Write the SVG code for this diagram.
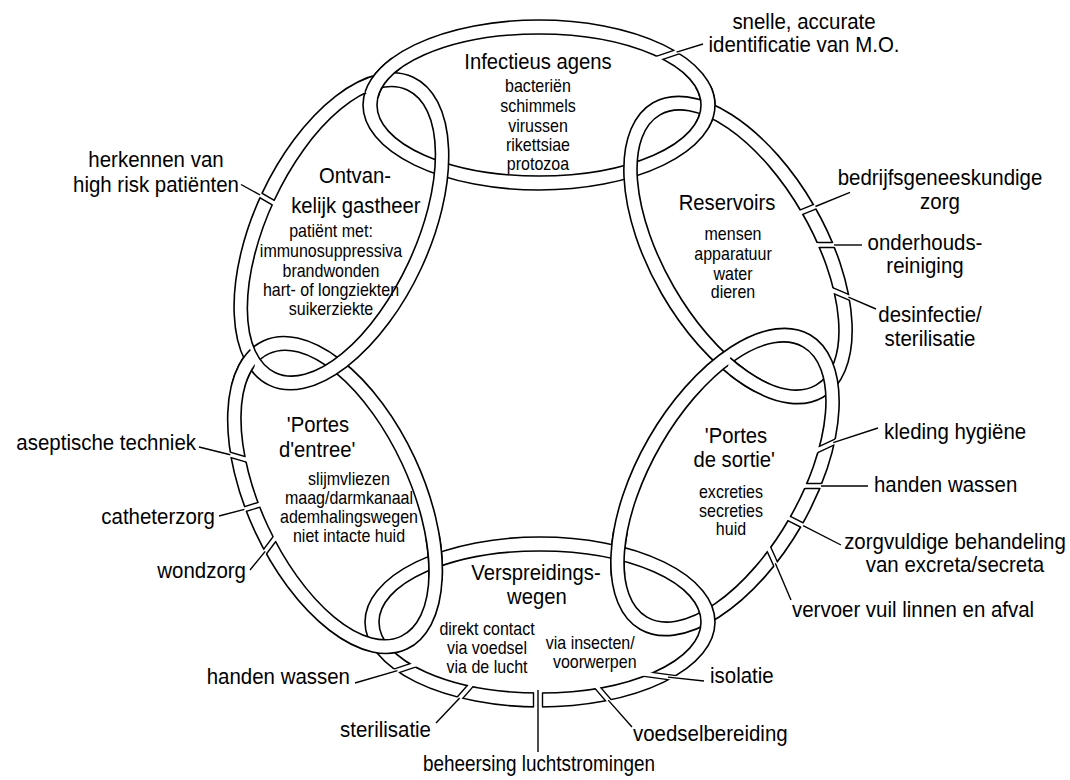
<svg xmlns="http://www.w3.org/2000/svg" xmlns:xlink="http://www.w3.org/1999/xlink" width="1070" height="780" viewBox="0 0 1070 780">
<style>
.band{fill:#fff;stroke:#000;stroke-width:1.6;fill-rule:evenodd}
.edge{stroke:#000;stroke-width:1.4;fill:none}
.lead{stroke:#000;stroke-width:1.4;fill:none}
text{font-family:"Liberation Sans",Arial,sans-serif;fill:#000}
.t{font-size:22.5px;text-anchor:middle}
.l{font-size:17.8px;text-anchor:middle}
.x{font-size:22px}
.m{text-anchor:middle}
.e{text-anchor:end}
</style>
<defs>
<path id="pT" d="M176,0A176,85 0 1 0 -176,0A176,85 0 1 0 176,0ZM162,0A162,71 0 1 0 -162,0A162,71 0 1 0 162,0Z"/>
<path id="pB" d="M175,0A175,85 0 1 0 -175,0A175,85 0 1 0 175,0ZM161,0A161,71 0 1 0 -161,0A161,71 0 1 0 161,0Z"/>
<path id="pS" d="M170,0A170,88 0 1 0 -170,0A170,88 0 1 0 170,0ZM156,0A156,74 0 1 0 -156,0A156,74 0 1 0 156,0Z"/>
<clipPath id="cT"><use xlink:href="#pT" transform="translate(539,105)" clip-rule="evenodd"/></clipPath>
<clipPath id="cR"><use xlink:href="#pS" transform="translate(738,250) rotate(60)" clip-rule="evenodd"/></clipPath>
<clipPath id="cS"><use xlink:href="#pS" transform="translate(725,482) rotate(-60)" clip-rule="evenodd"/></clipPath>
<clipPath id="cB"><use xlink:href="#pB" transform="translate(540,622)" clip-rule="evenodd"/></clipPath>
<clipPath id="cE"><use xlink:href="#pS" transform="translate(335,495) rotate(65)" clip-rule="evenodd"/></clipPath>
<clipPath id="cO"><use xlink:href="#pS" transform="translate(341.4,231.3) rotate(-65)" clip-rule="evenodd"/></clipPath>
<mask id="mT" maskUnits="userSpaceOnUse" x="0" y="0" width="1070" height="780"><rect width="1070" height="780" fill="#fff"/><path d="M644.25,63L691.75,47" stroke="#000" stroke-width="4"/></mask>
<mask id="mO" maskUnits="userSpaceOnUse" x="0" y="0" width="1070" height="780"><rect width="1070" height="780" fill="#fff"/><path d="M288.65,211.5L245.35,186.5" stroke="#000" stroke-width="4"/></mask>
<mask id="mR" maskUnits="userSpaceOnUse" x="0" y="0" width="1070" height="780"><rect width="1070" height="780" fill="#fff"/><path d="M784.85,218.95L831.15,200.05M801,245L851,245M818,284.25L864,303.75" stroke="#000" stroke-width="4"/></mask>
<mask id="mS" maskUnits="userSpaceOnUse" x="0" y="0" width="1070" height="780"><rect width="1070" height="780" fill="#fff"/><path d="M803.35,456.6L848.65,435.4M788,486L838,486M773.7,510.7L818.3,533.3M761.7,533.2L782.3,578.8" stroke="#000" stroke-width="4"/></mask>
<mask id="mB" maskUnits="userSpaceOnUse" x="0" y="0" width="1070" height="780"><rect width="1070" height="780" fill="#fff"/><path d="M428.7,660L381.3,676M481.5,673.2L448.5,710.8M586.75,675L619.25,713M635.2,672.6L684.8,679.4" stroke="#000" stroke-width="4"/><path d="M538,675L538,725" stroke="#000" stroke-width="8"/></mask>
<mask id="mE" maskUnits="userSpaceOnUse" x="0" y="0" width="1070" height="780"><rect width="1070" height="780" fill="#fff"/><path d="M262,464L214,450M275.85,499.5L228.15,514.5M285,525L255,565" stroke="#000" stroke-width="4"/></mask>
<clipPath id="o1"><circle cx="380" cy="76" r="22"/></clipPath>
<clipPath id="o2"><circle cx="708" cy="106" r="22"/></clipPath>
<clipPath id="o3"><circle cx="752" cy="368" r="24"/></clipPath>
<clipPath id="o4"><circle cx="614" cy="553" r="24"/></clipPath>
<clipPath id="o5"><circle cx="442" cy="557" r="24"/></clipPath>
<clipPath id="o6"><circle cx="233" cy="363" r="22"/></clipPath>
</defs>
<rect width="1070" height="780" fill="#fff"/>

<g id="node-infectieus">
<g id="band-T">
<g mask="url(#mT)"><use xlink:href="#pT" class="band" transform="translate(539,105)"/></g>
<g clip-path="url(#cT)" class="edge"><path d="M645.05,65.4L692.55,49.4M643.45,60.6L690.95,44.6"/></g>
</g>
</g>
<g id="node-reservoirs">
<g id="band-R">
<g mask="url(#mR)"><use xlink:href="#pS" class="band" transform="translate(738,250) rotate(60)"/></g>
<g clip-path="url(#cR)" class="edge"><path d="M785.8,221.3L832.1,202.4M783.9,216.6L830.2,197.7M801,247.5L851,247.5M801,242.5L851,242.5M817,286.55L863,306.05M819,281.95L865,301.45"/></g>
</g>
</g>
<g id="node-sortie">
<g id="band-S">
<g mask="url(#mS)"><use xlink:href="#pS" class="band" transform="translate(725,482) rotate(-60)"/></g>
<g clip-path="url(#cS)" class="edge"><path d="M804.4,458.9L849.7,437.7M802.3,454.3L847.6,433.1M788,488.5L838,488.5M788,483.5L838,483.5M772.6,512.9L817.2,535.5M774.8,508.5L819.4,531.1M759.4,534.2L780,579.8M764,532.2L784.6,577.8"/></g>
</g>
</g>
<g id="node-verspreiding">
<g id="band-B">
<g mask="url(#mB)"><use xlink:href="#pB" class="band" transform="translate(540,622)"/></g>
<g clip-path="url(#cB)" class="edge"><path d="M427.9,657.6L380.5,673.6M429.5,662.4L382.1,678.4M479.6,671.5L446.6,709.1M483.4,674.9L450.4,712.5M533.5,675L533.5,725M542.5,675L542.5,725M584.85,676.6L617.35,714.6M588.65,673.4L621.15,711.4M634.9,675.1L684.5,681.9M635.5,670.1L685.1,676.9"/></g>
</g>
</g>
<g id="node-entree">
<g id="band-E">
<g mask="url(#mE)"><use xlink:href="#pS" class="band" transform="translate(335,495) rotate(65)"/></g>
<g clip-path="url(#cE)" class="edge"><path d="M262.7,461.6L214.7,447.6M261.3,466.4L213.3,452.4M275.1,497.1L227.4,512.1M276.6,501.9L228.9,516.9M283,523.5L253,563.5M287,526.5L257,566.5"/></g>
</g>
</g>
<g id="node-gastheer">
<g id="band-O">
<g mask="url(#mO)"><use xlink:href="#pS" class="band" transform="translate(341.4,231.3) rotate(-65)"/></g>
<g clip-path="url(#cO)" class="edge"><path d="M289.9,209.3L246.6,184.3M287.4,213.7L244.1,188.7"/></g>
</g>
</g>

<g id="interlocks">
<use xlink:href="#band-T" clip-path="url(#o1)"/>
<use xlink:href="#band-T" clip-path="url(#o2)"/>
<use xlink:href="#band-R" clip-path="url(#o3)"/>
<use xlink:href="#band-S" clip-path="url(#o4)"/>
<use xlink:href="#band-E" clip-path="url(#o5)"/>
<use xlink:href="#band-E" clip-path="url(#o6)"/>
</g>

<g id="node-texts">
<text class="t" transform="translate(538 69) scale(.9 1)">Infectieus agens</text>
<text class="l" transform="translate(538 92) scale(.9 1)"><tspan x="0" y="0">bacteriën</tspan><tspan x="0" y="20">schimmels</tspan><tspan x="0" y="40">virussen</tspan><tspan x="0" y="59">rikettsiae</tspan><tspan x="0" y="78">protozoa</tspan></text>
<text class="t" transform="translate(355 183) scale(.9 1)"><tspan x="0" y="0">Ontvan-</tspan><tspan x="1" y="30">kelijk gastheer</tspan></text>
<text class="l" transform="translate(331 237) scale(.9 1)"><tspan x="0" y="0">patiënt met:</tspan><tspan x="0" y="20">immunosuppressiva</tspan><tspan x="0" y="40">brandwonden</tspan><tspan x="0" y="59">hart- of longziekten</tspan><tspan x="0" y="78">suikerziekte</tspan></text>
<text class="t" transform="translate(727 210) scale(.9 1)">Reservoirs</text>
<text class="l" transform="translate(733 240) scale(.9 1)"><tspan x="0" y="0">mensen</tspan><tspan x="0" y="20">apparatuur</tspan><tspan x="0" y="40">water</tspan><tspan x="0" y="58">dieren</tspan></text>
<text class="t" transform="translate(736 443) scale(.9 1)"><tspan x="0" y="0">'Portes</tspan><tspan x="-2" y="24">de sortie'</tspan></text>
<text class="l" transform="translate(731 498) scale(.9 1)"><tspan x="0" y="0">excreties</tspan><tspan x="0" y="19">secreties</tspan><tspan x="0" y="37">huid</tspan></text>
<text class="t" transform="translate(318 432) scale(.9 1)"><tspan x="0" y="0">'Portes</tspan><tspan x="-1" y="25">d'entree'</tspan></text>
<text class="l" transform="translate(349 485) scale(.9 1)"><tspan x="0" y="0">slijmvliezen</tspan><tspan x="0" y="19">maag/darmkanaal</tspan><tspan x="0" y="38">ademhalingswegen</tspan><tspan x="0" y="57">niet intacte huid</tspan></text>
<text class="t" transform="translate(536 580) scale(.9 1)"><tspan x="0" y="0">Verspreidings-</tspan><tspan x="1" y="24">wegen</tspan></text>
<text class="l" transform="translate(487 635) scale(.9 1)"><tspan x="0" y="0">direkt contact</tspan><tspan x="0" y="19">via voedsel</tspan><tspan x="0" y="38">via de lucht</tspan></text>
<text class="l" transform="translate(592 649) scale(.9 1)"><tspan x="-2" y="0">via insecten/</tspan><tspan x="3" y="19">voorwerpen</tspan></text>
</g>

<g id="connectors" class="lead">
<path d="M676.6,52.1L703,44"/>
<path d="M260.1,195L241,184.5"/>
<path d="M815.4,206.5L850,192.4"/>
<path d="M834,245L862,245"/>
<path d="M848.4,297.1L876,309"/>
<path d="M833.2,442.6L878,428"/>
<path d="M821,486L868,486"/>
<path d="M803.1,525.6L841,545"/>
<path d="M775.3,563.3L791,600"/>
<path d="M667.9,677.1L704,681"/>
<path d="M608.2,700.1L632,727"/>
<path d="M538,690L538,752"/>
<path d="M459.7,698L436,723"/>
<path d="M397.4,670.6L355,683"/>
<path d="M265.2,551.4L250,570"/>
<path d="M244.4,509.4L219,516"/>
<path d="M230.3,454.8L199,447"/>
</g>

<g id="labels">
<text class="x m" transform="translate(804 29) scale(.93 1)"><tspan x="0" y="0">snelle, accurate</tspan><tspan x="0" y="23">identificatie van M.O.</tspan></text>
<text class="x m" transform="translate(156 167) scale(.93 1)"><tspan x="0" y="0">herkennen van</tspan><tspan x="0" y="25">high risk patiënten</tspan></text>
<text class="x m" transform="translate(940 185) scale(.93 1)"><tspan x="0" y="0">bedrijfsgeneeskundige</tspan><tspan x="0" y="24">zorg</tspan></text>
<text class="x m" transform="translate(925 250) scale(.93 1)"><tspan x="0" y="0">onderhouds-</tspan><tspan x="0" y="23">reiniging</tspan></text>
<text class="x m" transform="translate(930 322) scale(.93 1)"><tspan x="0" y="0">desinfectie/</tspan><tspan x="0" y="24">sterilisatie</tspan></text>
<text class="x" transform="translate(884 439) scale(.93 1)">kleding hygiëne</text>
<text class="x" transform="translate(874 492) scale(.93 1)">handen wassen</text>
<text class="x m" transform="translate(955 549) scale(.93 1)"><tspan x="0" y="0">zorgvuldige behandeling</tspan><tspan x="0" y="23">van excreta/secreta</tspan></text>
<text class="x" transform="translate(792 617) scale(.93 1)">vervoer vuil linnen en afval</text>
<text class="x" transform="translate(710 683) scale(.93 1)">isolatie</text>
<text class="x" transform="translate(633 741) scale(.93 1)">voedselbereiding</text>
<text class="x m" transform="translate(539 771) scale(.86 1)">beheersing luchtstromingen</text>
<text class="x e" transform="translate(431 737) scale(.93 1)">sterilisatie</text>
<text class="x e" transform="translate(350 684) scale(.93 1)">handen wassen</text>
<text class="x e" transform="translate(246 578) scale(.93 1)">wondzorg</text>
<text class="x e" transform="translate(215 524) scale(.93 1)">catheterzorg</text>
<text class="x e" transform="translate(196 450) scale(.93 1)">aseptische techniek</text>
</g>
</svg>
